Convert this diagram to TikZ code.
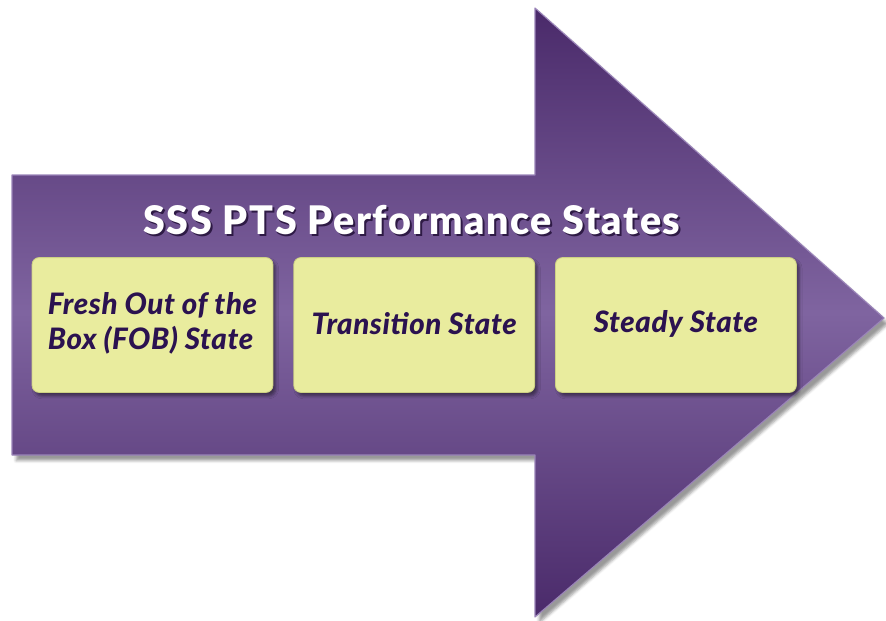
\documentclass[tikz,border=0pt]{standalone}
\usepackage{fontspec}
\setmainfont{Lato}[BoldFont={Lato Black}, BoldItalicFont={Lato Black Italic}]
\usepackage{tikz}
\usetikzlibrary{positioning,shadows.blur}
\definecolor{arrowdark}{HTML}{4A2A6A}
\definecolor{arrowmid}{HTML}{6A4C8A}
\definecolor{arrowlight}{HTML}{7F64A0}
\definecolor{arrowedge}{HTML}{9A84B8}
\definecolor{stagefill}{HTML}{E9EC9E}
\definecolor{stageedge}{HTML}{CDD184}
\definecolor{stagetext}{HTML}{2B1250}
\definecolor{titleshade}{HTML}{2E1A45}

\begin{document}
\begin{tikzpicture}[
  x=0.025cm, y=-0.025cm,
  node distance=0.5cm,
  statebox/.style={draw=stageedge, fill=stagefill, rounded corners=5pt, line width=0.6pt,
                   minimum width=6.02cm, minimum height=3.37cm, align=center,
                   text=stagetext,
                   font=\fontsize{21}{24.5}\selectfont\bfseries\itshape\addfontfeatures{LetterSpace=2},
                   blur shadow={shadow xshift=2pt, shadow yshift=-2.5pt, shadow opacity=45}},
  titletext/.style={text=white,
                    font=\fontsize{28}{31}\selectfont\bfseries\addfontfeatures{LetterSpace=4}}
]
\useasboundingbox (0,0) rectangle (886,620);

% the big arrow
\path[blur shadow={shadow xshift=3pt, shadow yshift=-4pt, shadow opacity=40},
      top color=arrowdark, bottom color=arrowdark, middle color=arrowlight,
      draw=arrowedge, line width=0.8pt, line join=round]
  (12,175) -- (535,175) -- (535,8) -- (884,318) -- (535,617)
  -- (535,455) -- (12,455) -- cycle;

% title with its shadow
\node[titletext] (title) at (412,221)
  {\rlap{\kern1.4pt\raisebox{-1.4pt}{\textcolor{titleshade}{SSS PTS Performance States}}}SSS PTS Performance States};

% the three states
\node[statebox] (fob) at (152.5,325)
  {\raisebox{3.5pt}{\begin{tabular}{@{}l@{}}Fresh Out of the\\Box (FOB) State\end{tabular}}};
\node[statebox, right=of fob] (trans) {\raisebox{1.5pt}{Transition State}};
\node[statebox, right=of trans] (steady) {\raisebox{5pt}{Steady State}};
\end{tikzpicture}
\end{document}
